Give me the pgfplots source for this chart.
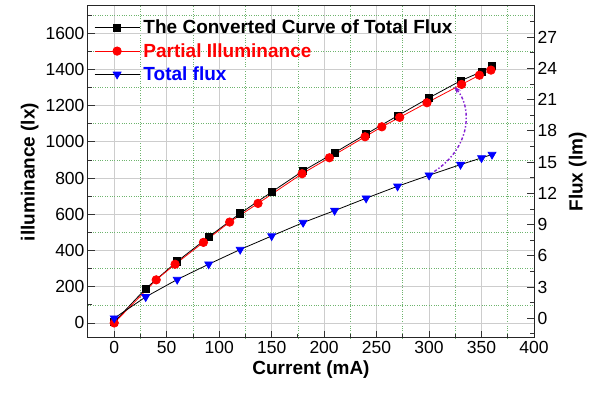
\documentclass[border=0pt]{standalone}
\usepackage{pgfplots}
\pgfplotsset{compat=1.18}
\usepackage{fontspec}
\setmainfont{Liberation Sans}
\usetikzlibrary{arrows.meta}
\definecolor{gridgray}{RGB}{205,205,205}
\definecolor{gridgreen}{RGB}{110,180,110}
\definecolor{arcpurple}{RGB}{130,30,210}
\begin{document}
\begin{tikzpicture}
\pgfplotsset{
  every axis/.append style={
    scale only axis, width=446pt, height=332pt,
    at={(0pt,0pt)}, anchor=south west,
    xmin=-25, xmax=400,
    /pgf/number format/assume math mode=true,
    /pgf/number format/1000 sep={},
    tick label style={font=\fontsize{17.5}{20}\selectfont},
    label style={font=\bfseries\fontsize{19}{22}\selectfont},
    axis line style={line width=1pt, black!85},
    major tick length=7pt, minor tick length=4pt,
    tick style={line width=0.8pt, black!80},
  }
}
\begin{axis}[
  ymin=-83, ymax=1750,
  xtick={0,50,...,400}, minor xtick={25,75,...,375},
  ytick={0,200,...,1600}, minor ytick={100,300,...,1700},
  xtick pos=bottom, ytick pos=left,
  grid=both,
  major grid style={gridgray, line width=0.8pt},
  minor grid style={gridgreen, dotted, line width=0.7pt},
  xlabel={Current (mA)}, ylabel={illuminance (lx)},
]
\addplot[black, line width=0.8pt, mark=square*, mark size=3.6pt, mark options={solid, fill=black}] coordinates {
 (0,5) (30,190) (60,340) (90,475) (120,605) (150,723) (180,840) (210,940) (240,1043) (270,1144) (300,1243) (330,1337) (350,1387) (360,1418)};
\addplot[red, line width=0.8pt, mark=*, mark size=4.2pt, mark options={solid, fill=red}] coordinates {
 (0,0) (40,238) (58,324) (85,445) (110,557) (137,660) (179,824) (205,912) (239,1028) (255,1083) (272,1135) (298,1216) (331,1317) (348,1368) (359,1396)};
\draw[arcpurple, line width=1.4pt, dash dot, -{Stealth[length=7pt]}] (axis cs:305,836) .. controls (axis cs:342,980) and (axis cs:340,1200) .. (axis cs:324,1304);
\end{axis}
\begin{axis}[
  axis x line=none, axis y line*=right,
  ymin=-1.9, ymax=30,
  ytick={0,3,...,27}, minor ytick={-1.5,1.5,...,28.5},
  ylabel={Flux (lm)},
  ylabel style={xshift=0pt, yshift=-5pt},
  legend style={draw=none, fill=none, at={(0,1)}, anchor=north west, xshift=3pt, yshift=-10pt,
    font=\bfseries\fontsize{19}{22}\selectfont, row sep=4pt, nodes={inner xsep=3.5pt}},
  legend cell align=left,
  legend image code/.code={\draw[mark repeat=2, mark phase=2, #1] plot coordinates {(0pt,0pt) (22.5pt,0pt) (45pt,0pt)};},
]
\addlegendimage{black, line width=0.8pt, mark=square*, mark size=3.6pt, mark options={solid, fill=black}}
\addlegendentry{The Converted Curve of Total Flux}
\addlegendimage{red, line width=0.8pt, mark=*, mark size=4.2pt, mark options={solid, fill=red}}
\addlegendentry{\textcolor{red}{Partial Illuminance}}
\addplot[black, line width=0.8pt, mark=triangle*, mark size=4.5pt, mark options={solid, blue, fill=blue, rotate=180}] coordinates {
 (0,0) (30,2.05) (60,3.72) (90,5.19) (120,6.6) (150,7.9) (180,9.19) (210,10.34) (240,11.53) (270,12.68) (300,13.74) (330,14.76) (350,15.4) (360,15.73)};
\addlegendentry{\textcolor{blue}{Total flux}}
\end{axis}
\path (-88pt,-55pt) rectangle (512pt,338pt);
\end{tikzpicture}
\end{document}
